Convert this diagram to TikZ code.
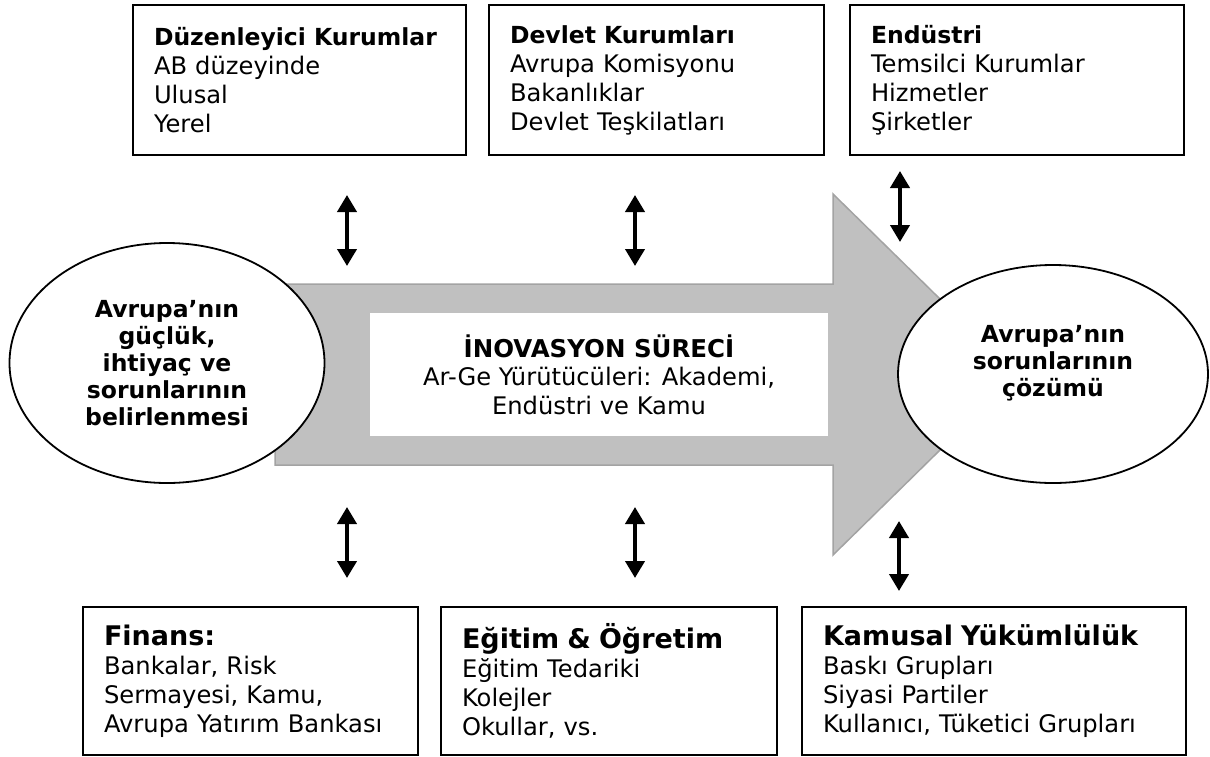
\documentclass[tikz,border=0pt]{standalone}
\usepackage{fontspec}
\setmainfont{DejaVu Sans}
\usetikzlibrary{arrows.meta,shapes.geometric}

\definecolor{flowgrey}{HTML}{C0C0C0}
\definecolor{flowedge}{HTML}{A3A3A3}

\begin{document}
\begin{tikzpicture}[x=1pt,y=-1pt,
  infobox/.style={draw=black, line width=2pt, fill=white, rectangle,
    inner xsep=21pt, inner ysep=0pt, align=left, minimum height=150pt,
    font=\fontsize{24.2}{29}\selectfont},
  boxhead/.style={},
  oval/.style={draw=black, line width=1.8pt, fill=white, ellipse, inner sep=0pt,
    align=center, font=\fontsize{23.5}{27}\selectfont\bfseries},
  ovaltext/.style={align=center, inner sep=0pt, font=\fontsize{23.5}{27}\selectfont\bfseries},
  dbl/.style={{Triangle[width=19pt,length=17pt]}-{Triangle[width=19pt,length=17pt]},
    line width=4pt}
]
\useasboundingbox (0,0) rectangle (1210,756);

% main process arrow
\filldraw[fill=flowgrey, draw=flowedge, line width=1.5pt]
  (275,284) -- (833,284) -- (833,194) -- (1017,374.5) -- (833,555)
  -- (833,465) -- (275,465) -- cycle;

% process description
\node[fill=white, minimum width=458pt, minimum height=123pt, inner sep=0pt,
      align=center, font=\fontsize{24.2}{28.5}\selectfont] (proc) at (599,374.5)
  {{\fontsize{24.5}{28.5}\selectfont\bfseries İNOVASYON SÜRECİ}\\
   Ar-Ge Yürütücüleri: Akademi,\\ Endüstri ve Kamu};

% start and end ovals
\node[oval, minimum width=315pt, minimum height=240pt] (need) at (167,363)
  {Avrupa’nın\\güçlük,\\ihtiyaç ve\\sorunlarının\\belirlenmesi};
\node[oval, minimum width=310pt, minimum height=218pt] (sol) at (1053,374) {};
\node[ovaltext] (soltext) at ([yshift=11pt]sol.center)
  {Avrupa’nın\\sorunlarının\\çözümü};

% stakeholder boxes, upper row
\node[infobox, minimum width=333pt, text width=291pt] (reg) at (299.5,80)
  {{\fontsize{23.5}{29}\selectfont\bfseries Düzenleyici Kurumlar}\\AB düzeyinde\\Ulusal\\Yerel};
\node[infobox, minimum width=335pt, text width=293pt] (gov) at (656.5,80)
  {{\fontsize{23.5}{29}\selectfont\bfseries Devlet Kurumları}\\Avrupa Komisyonu\\Bakanlıklar\\Devlet Teşkilatları};
\node[infobox, minimum width=334pt, text width=292pt] (ind) at (1017,80)
  {{\fontsize{23.5}{29}\selectfont\bfseries Endüstri}\\Temsilci Kurumlar\\Hizmetler\\Şirketler};

% stakeholder boxes, lower row
\node[infobox, minimum width=335pt, text width=293pt, minimum height=148pt] (fin) at (250.5,681)
  {{\fontsize{27}{29}\selectfont\bfseries Finans:}\\Bankalar, Risk\\Sermayesi, Kamu,\\Avrupa Yatırım Bankası};
\node[infobox, minimum width=336pt, text width=294pt, minimum height=148pt] (edu) at (609,681)
  {{\fontsize{27}{29}\selectfont\bfseries Eğitim \& Öğretim}\\Eğitim Tedariki\\Kolejler\\Okullar, vs.};
\node[infobox, minimum width=384pt, text width=342pt, minimum height=148pt] (pub) at (994,681)
  {{\fontsize{27}{29}\selectfont\bfseries Kamusal Yükümlülük}\\Baskı Grupları\\Siyasi Partiler\\Kullanıcı, Tüketici Grupları};

% two-way links between the process and its stakeholders
\coordinate (r1) at (347,195);  \coordinate (r2) at (347,266);
\coordinate (g1) at (635,195);  \coordinate (g2) at (635,266);
\coordinate (i1) at (900,171);  \coordinate (i2) at (900,242);
\coordinate (f1) at (347,507);  \coordinate (f2) at (347,578);
\coordinate (e1) at (635,507);  \coordinate (e2) at (635,578);
\coordinate (p1) at (899,521);  \coordinate (p2) at (899,591);
\draw[dbl] (r1) -- (r2);
\draw[dbl] (g1) -- (g2);
\draw[dbl] (i1) -- (i2);
\draw[dbl] (f1) -- (f2);
\draw[dbl] (e1) -- (e2);
\draw[dbl] (p1) -- (p2);
\end{tikzpicture}
\end{document}
